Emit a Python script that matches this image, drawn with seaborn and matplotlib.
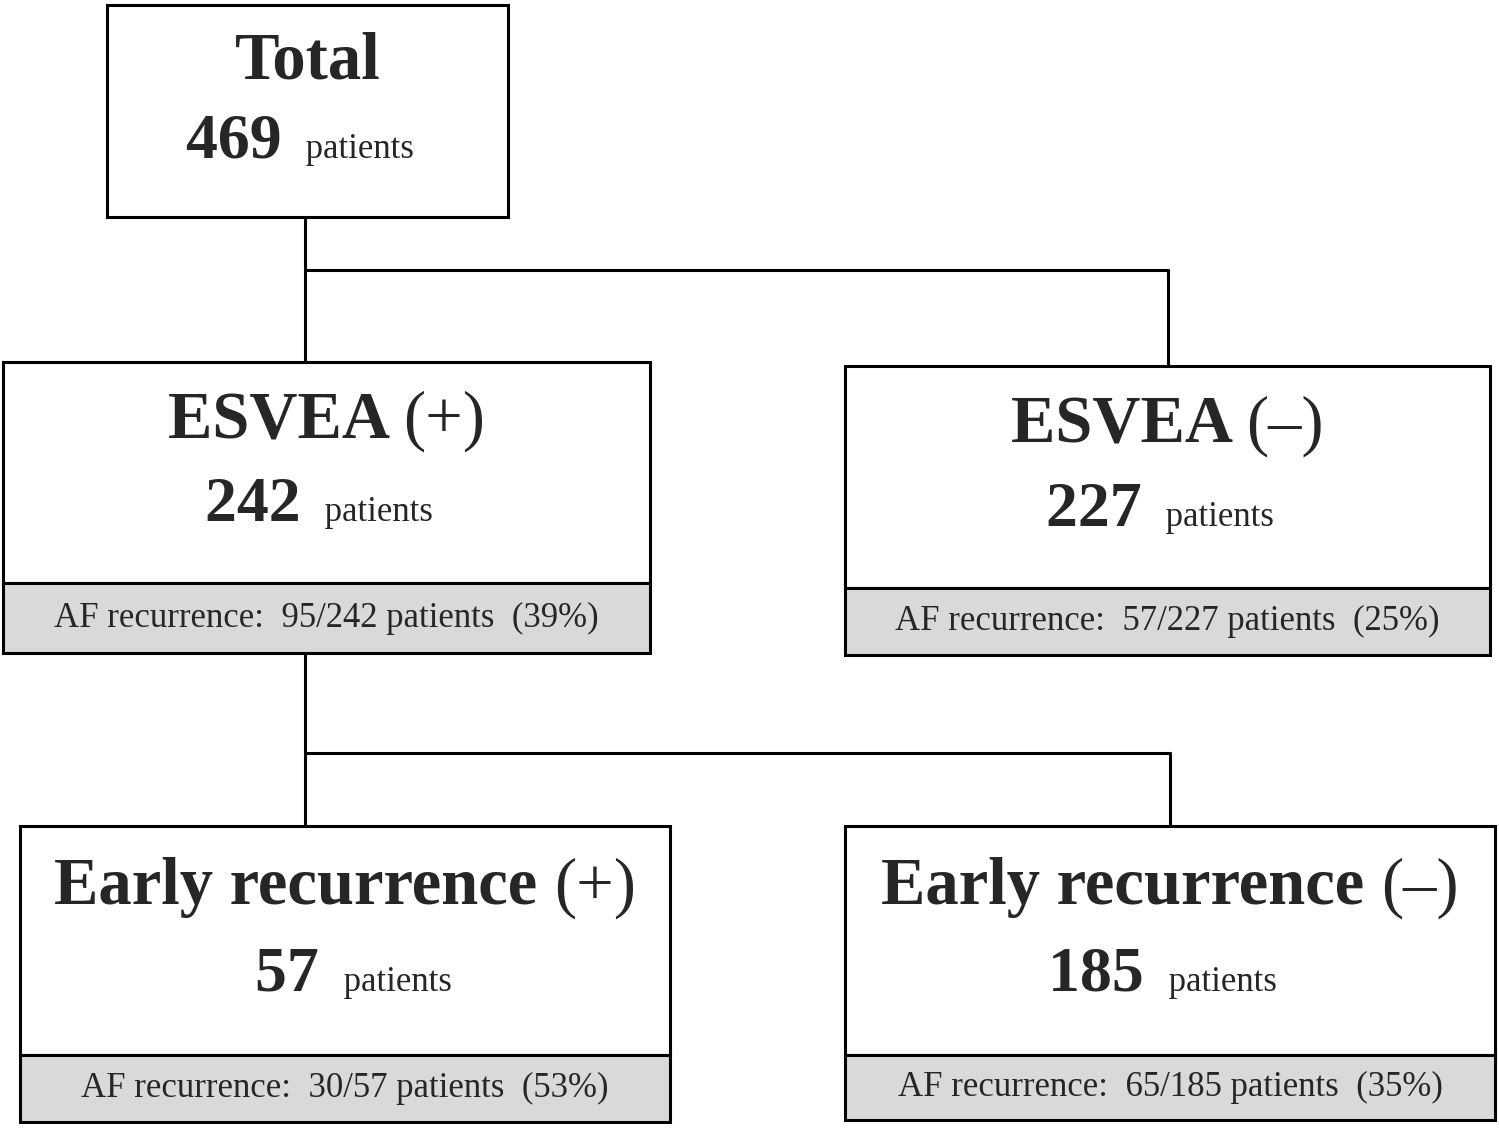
import matplotlib
matplotlib.use("Agg")
import matplotlib.pyplot as plt
import seaborn as sns
from matplotlib.patches import Rectangle

sns.set_style("white")

titles = ["Total", "ESVEA", "ESVEA", "Early recurrence", "Early recurrence"]
signs = ["", "(+)", "(\u2013)", "(+)", "(\u2013)"]
counts = [469, 242, 227, 57, 185]
recur = [None, 95, 57, 30, 65]
pcts = [None, 39, 25, 53, 35]

# layout (pixel coordinates): x0, x1, y0, y1(main), y2(grey bottom)
boxes = [
    (107, 508, 5, 217, None),
    (3, 650, 362, 583, 653),
    (845, 1490, 366, 588, 655),
    (20, 670, 826, 1055, 1122),
    (845, 1495, 826, 1055, 1120),
]

fig = plt.figure(figsize=(14.99, 11.28), dpi=100)
ax = fig.add_axes([0, 0, 1, 1])
ax.set_xlim(0, 1499)
ax.set_ylim(1128, 0)
ax.axis("off")
serif = "Liberation Serif"

for i, (x0, x1, y0, y1, y2) in enumerate(boxes):
    cx = (x0 + x1) / 2
    ax.add_patch(Rectangle((x0, y0), x1 - x0, y1 - y0, fill=False, lw=2.2, ec="black"))
    if y2 is not None:
        ax.add_patch(Rectangle((x0, y1), x1 - x0, y2 - y1, fc="#d9d9d9", lw=2.2, ec="black"))
        ax.text(cx, (y1 + y2) / 2, f"AF recurrence:  {recur[i]}/{counts[i]} patients  ({pcts[i]}%)",
                ha="center", va="center", fontsize=25, family=serif)
    h = y1 - y0
    ty = y0 + h * 0.27
    if signs[i]:
        ax.text(cx, ty, f"$\\mathbf{{{titles[i].replace(' ', '~')}}}$", alpha=0)
        t = ax.annotate(titles[i], (cx, ty), ha="right", va="center", fontsize=48,
                        family=serif, weight="bold")
        ax.text(cx, ty, "", fontsize=1)
    else:
        ax.text(cx, ty, titles[i], ha="center", va="center", fontsize=48,
                family=serif, weight="bold")
    ny = y0 + h * 0.72
    ax.text(cx - 10, ny, str(counts[i]) + " ", ha="right", va="baseline", fontsize=46,
            family=serif, weight="bold", transform=ax.transData)
    ax.text(cx - 10, ny, " patients", ha="left", va="baseline", fontsize=25, family=serif)

# redo titles with signs properly centered
fig.canvas.draw()
renderer = fig.canvas.get_renderer()
for t in list(ax.texts):
    if t.get_alpha() == 0:
        t.remove()
for t in list(ax.texts):
    pass
for a in list(ax.texts) + list(getattr(ax, "_children", [])):
    pass
for child in list(ax.get_children()):
    if isinstance(child, matplotlib.text.Annotation):
        child.remove()
for i, (x0, x1, y0, y1, y2) in enumerate(boxes):
    if not signs[i]:
        continue
    cx = (x0 + x1) / 2
    ty = y0 + (y1 - y0) * 0.27
    t1 = ax.text(0, ty, titles[i] + " ", ha="left", va="center", fontsize=48, family=serif, weight="bold")
    t2 = ax.text(0, ty, signs[i], ha="left", va="center", fontsize=48, family=serif)
    w1 = t1.get_window_extent(renderer).width
    w2 = t2.get_window_extent(renderer).width
    start = cx - (w1 + w2) / 2
    t1.set_x(start)
    t2.set_x(start + w1)

lines = [
    ([305, 305], [217, 362]), ([305, 1168], [270, 270]), ([1168, 1168], [270, 366]),
    ([305, 305], [653, 826]), ([305, 1170], [753, 753]), ([1170, 1170], [753, 826]),
]
for xs, ys in lines:
    ax.plot(xs, ys, color="black", lw=2.2)

fig.savefig("out.png", dpi=100)
